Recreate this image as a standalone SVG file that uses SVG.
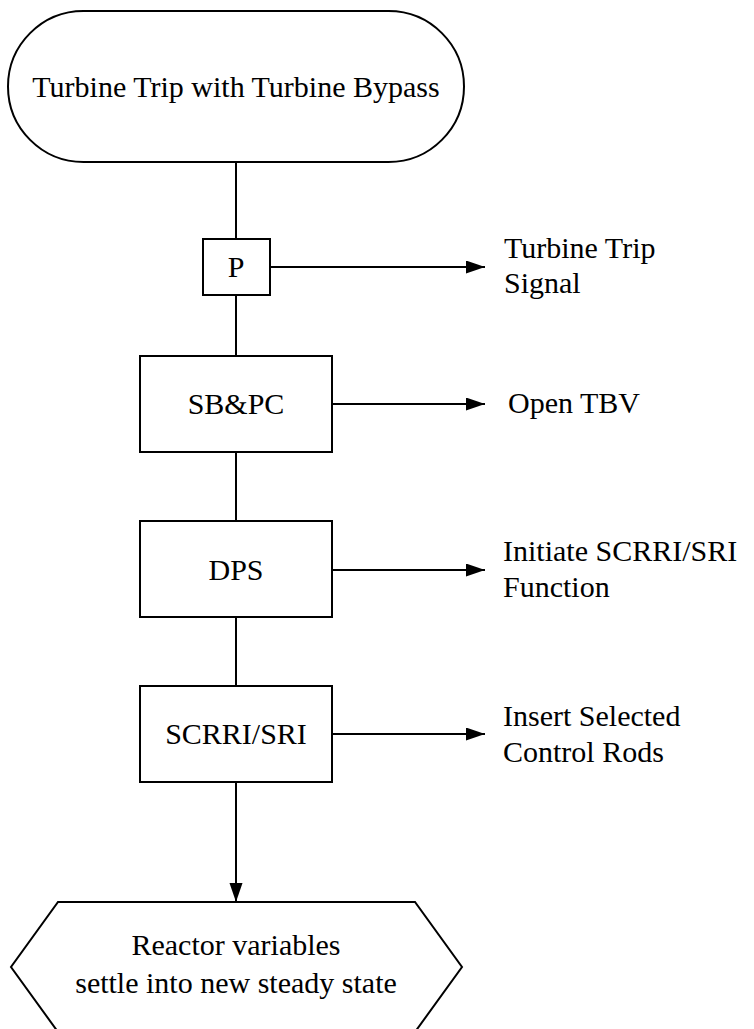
<svg xmlns="http://www.w3.org/2000/svg" width="754" height="1029" viewBox="0 0 754 1029">
<defs>
<marker id="ah" markerUnits="userSpaceOnUse" markerWidth="20" markerHeight="14" refX="19" refY="6.5" orient="auto">
<path d="M0,0 L19,6.5 L0,13 Z" fill="#000"/>
</marker>
</defs>
<rect width="754" height="1029" fill="#fff"/>
<g id="connectors" fill="none" stroke="#000" stroke-width="2">
<line x1="236" y1="162" x2="236" y2="239"/>
<line x1="236" y1="295" x2="236" y2="356"/>
<line x1="236" y1="452" x2="236" y2="521"/>
<line x1="236" y1="617" x2="236" y2="686"/>
<line x1="236" y1="782" x2="236" y2="902" marker-end="url(#ah)"/>
<line x1="270" y1="267" x2="485" y2="267" marker-end="url(#ah)"/>
<line x1="332" y1="404" x2="485" y2="404" marker-end="url(#ah)"/>
<line x1="332" y1="570" x2="485" y2="570" marker-end="url(#ah)"/>
<line x1="332" y1="734" x2="485" y2="734" marker-end="url(#ah)"/>
</g>
<g id="start">
<rect x="8" y="11" width="456" height="151" rx="75.5" ry="75.5" fill="#fff" stroke="#000" stroke-width="2"/>
<text x="236" y="97" font-family="Liberation Serif" font-size="30" text-anchor="middle">Turbine Trip with Turbine Bypass</text>
</g>
<g id="p">
<rect x="203" y="239" width="67" height="56" fill="#fff" stroke="#000" stroke-width="2"/>
<text x="236" y="277" font-family="Liberation Serif" font-size="30" text-anchor="middle">P</text>
</g>
<g id="sbpc">
<rect x="140" y="356" width="192" height="96" fill="#fff" stroke="#000" stroke-width="2"/>
<text x="236" y="414" font-family="Liberation Serif" font-size="30" text-anchor="middle">SB&amp;PC</text>
</g>
<g id="dps">
<rect x="140" y="521" width="192" height="96" fill="#fff" stroke="#000" stroke-width="2"/>
<text x="236" y="580" font-family="Liberation Serif" font-size="30" text-anchor="middle">DPS</text>
</g>
<g id="scrri">
<rect x="140" y="686" width="192" height="96" fill="#fff" stroke="#000" stroke-width="2"/>
<text x="236" y="744" font-family="Liberation Serif" font-size="30" text-anchor="middle">SCRRI/SRI</text>
</g>
<g id="end">
<polygon points="58,902 415,902 462,967 415,1032 58,1032 11,967" fill="#fff" stroke="#000" stroke-width="2"/>
<text x="236" y="955" font-family="Liberation Serif" font-size="30" text-anchor="middle">Reactor variables</text>
<text x="236" y="993" font-family="Liberation Serif" font-size="30" text-anchor="middle">settle into new steady state</text>
</g>
<g id="labels">
<text x="504" y="258" font-family="Liberation Serif" font-size="30">Turbine Trip</text>
<text x="504" y="293" font-family="Liberation Serif" font-size="30">Signal</text>
<text x="508" y="413" font-family="Liberation Serif" font-size="30">Open TBV</text>
<text x="503" y="561" font-family="Liberation Serif" font-size="30">Initiate SCRRI/SRI</text>
<text x="503" y="597" font-family="Liberation Serif" font-size="30">Function</text>
<text x="503" y="726" font-family="Liberation Serif" font-size="30">Insert Selected</text>
<text x="503" y="762" font-family="Liberation Serif" font-size="30">Control Rods</text>
</g>
</svg>
